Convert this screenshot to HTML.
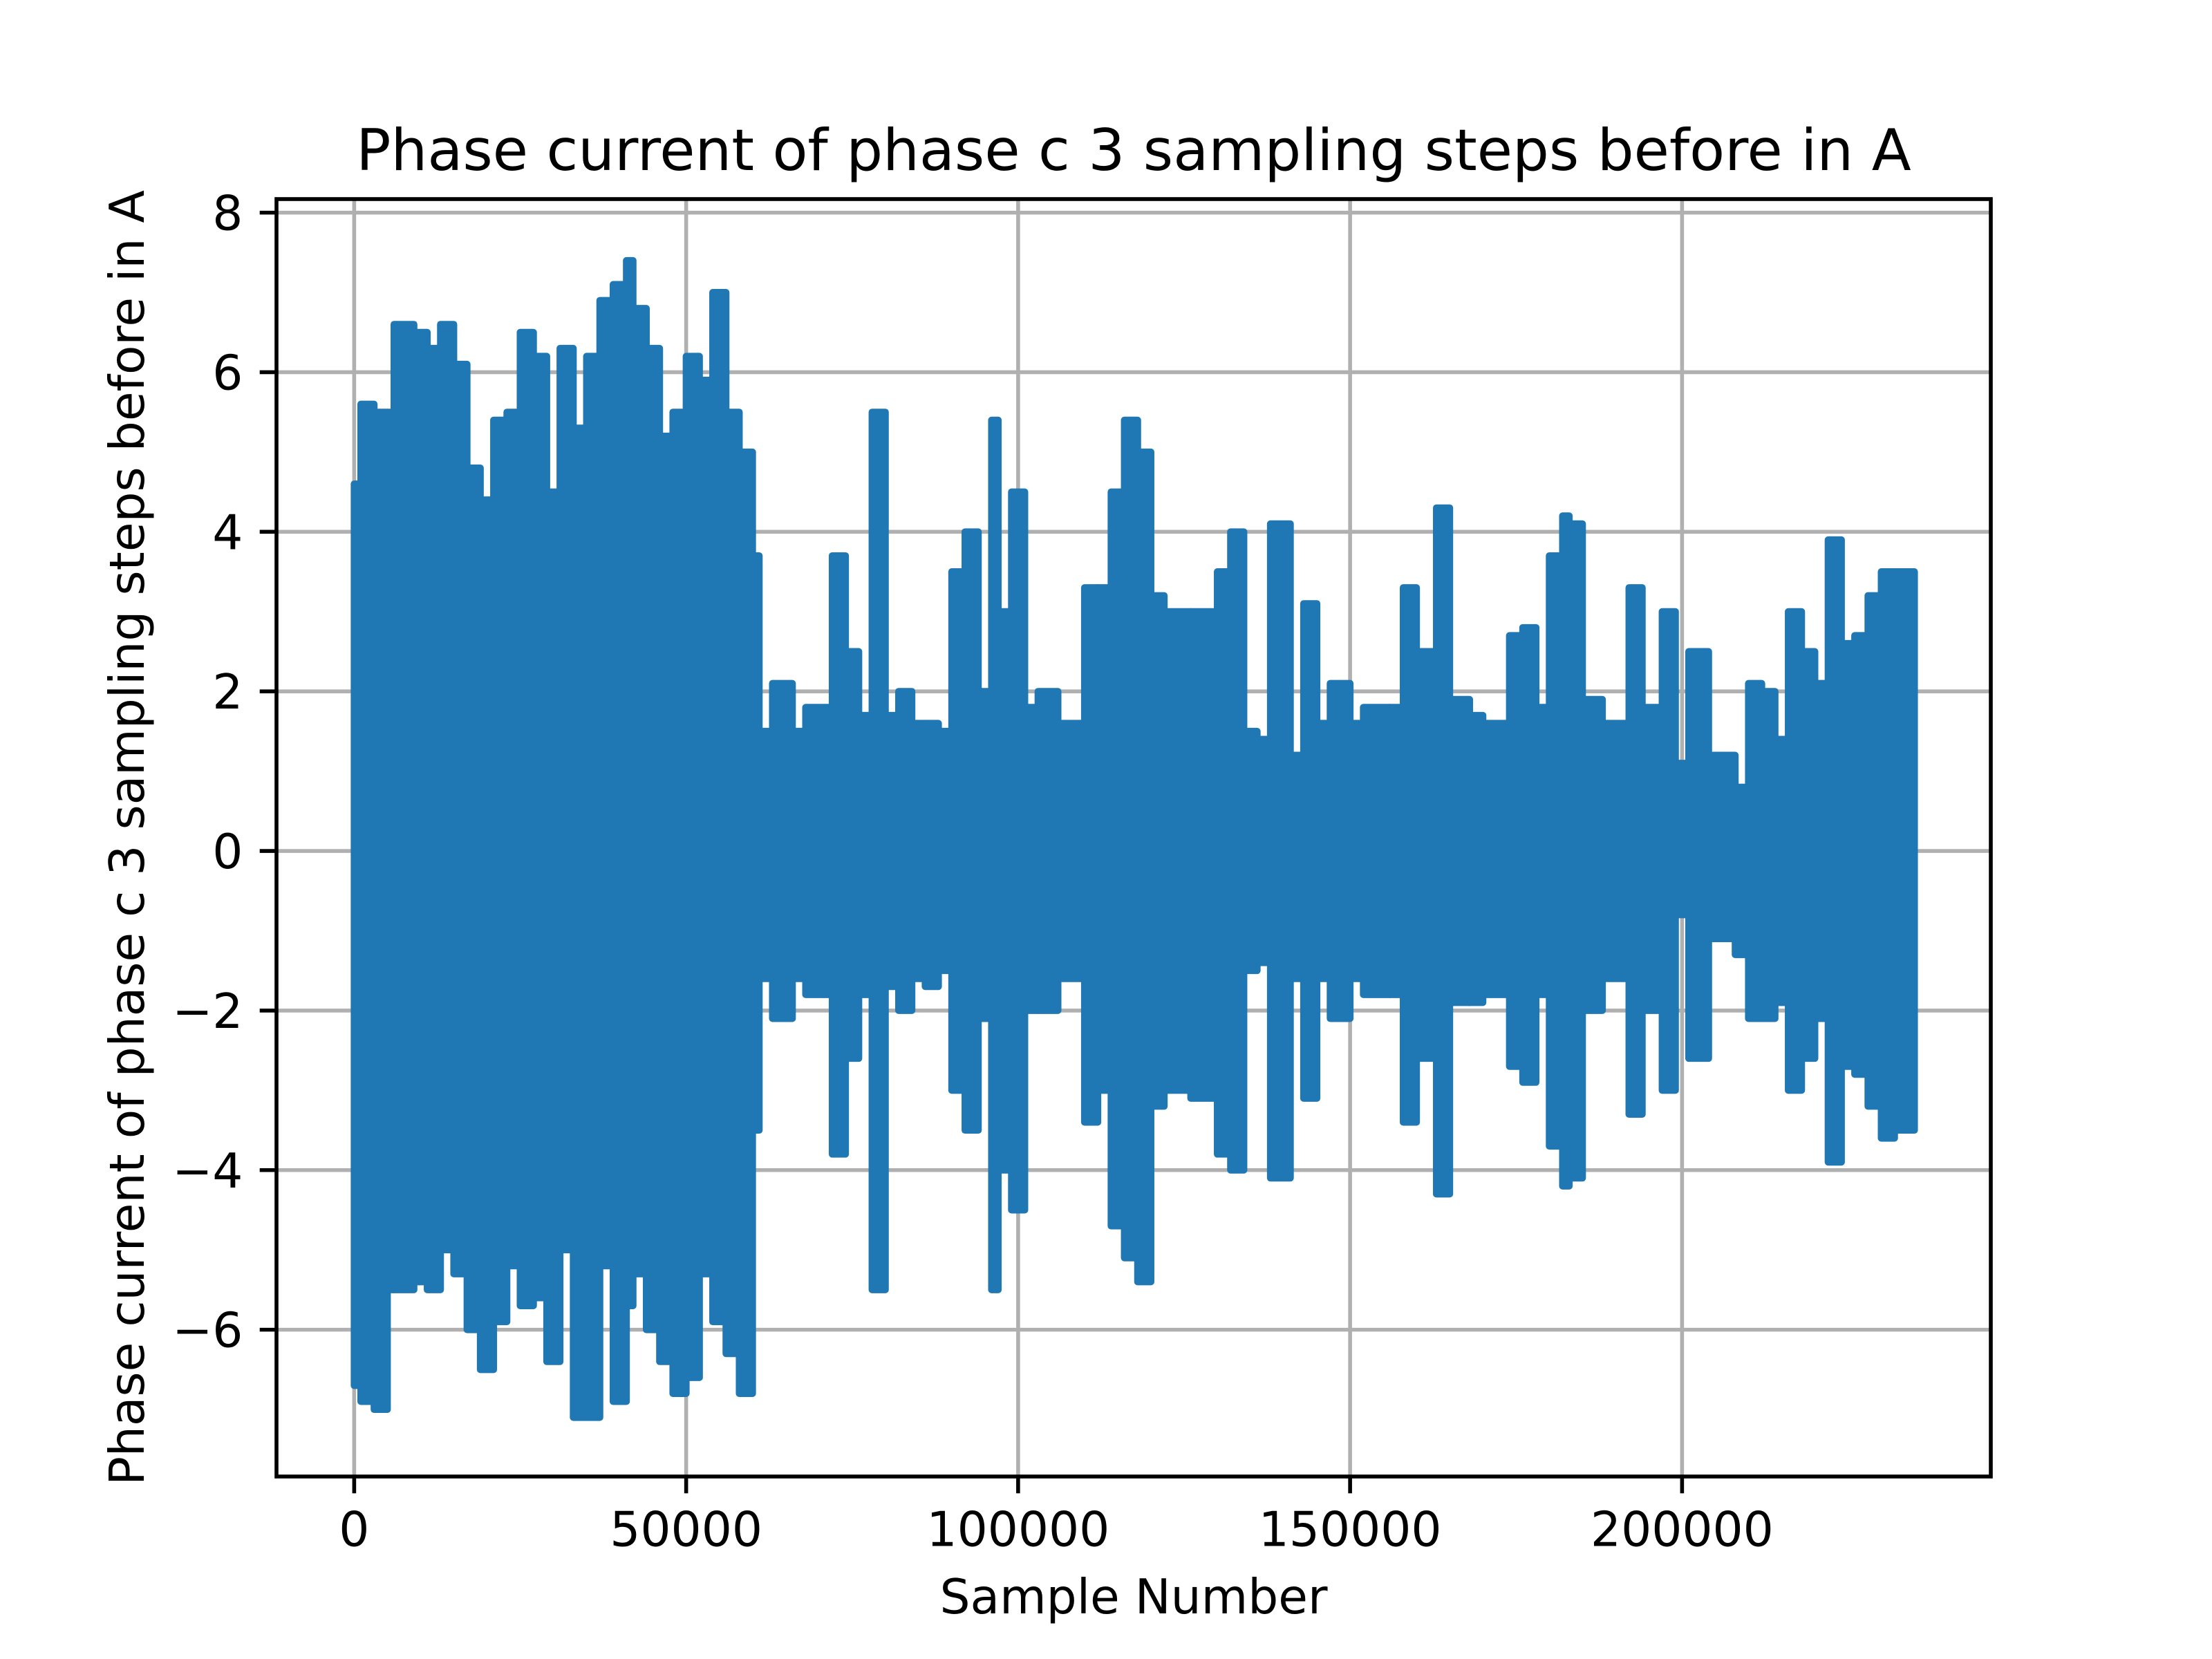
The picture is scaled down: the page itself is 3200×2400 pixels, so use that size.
<!DOCTYPE html>
<html><head><meta charset="utf-8"><style>
html,body{margin:0;padding:0;background:#fff;}
svg{display:block;}
text{font-family:"DejaVu Sans","Liberation Sans",sans-serif;fill:#000;}
</style></head><body>
<svg id="chart" width="3200" height="2400" viewBox="0 0 3200 2400" xmlns="http://www.w3.org/2000/svg">
<rect x="0" y="0" width="3200" height="2400" fill="#fff"/>
<g id="grid"></g>
<g id="series"></g>
<g id="axes"></g>
<text x="1640" y="246" font-size="83.3" text-anchor="middle">Phase current of phase c 3 sampling steps before in A</text>
<text x="1640" y="2334" font-size="69.4" text-anchor="middle">Sample Number</text>
<text transform="translate(208,1212) rotate(-90)" font-size="69.4" text-anchor="middle">Phase current of phase c 3 sampling steps before in A</text>
</svg>
<script>
// segment boundaries (thousands of samples)
const segStart = [0,1,3,5,6,9,11,13,15,17,19,21,23,25,27,29,31,33,35,37,39,41,42,44,46,48,50,52,54,56,58,60,61,63,66,68,72,74,76,78,80,82,84,86,88,90,92,94,96,97,99,101,103,106,110,112,114,116,118,120,122,126,130,132,134,136,138,141,143,145,147,150,152,156,158,160,163,165,168,170,174,176,178,180,182,183,185,188,192,194,197,199,201,204,208,210,212,214,216,218,220,222,224,226,228,230,232];
const segEnd = 235;
const upperVals = [4.6,5.6,5.5,5.5,6.6,6.5,6.3,6.6,6.1,4.8,4.4,5.4,5.5,6.5,6.2,4.5,6.3,5.3,6.2,6.9,7.1,7.4,6.8,6.3,5.2,5.5,6.2,5.9,7.0,5.5,5.0,3.7,1.5,2.1,1.5,1.8,3.7,2.5,1.7,5.5,1.7,2.0,1.6,1.6,1.5,3.5,4.0,2.0,5.4,3.0,4.5,1.8,2.0,1.6,3.3,3.3,4.5,5.4,5.0,3.2,3.0,3.0,3.5,4.0,1.5,1.4,4.1,1.2,3.1,1.6,2.1,1.6,1.8,1.8,3.3,2.5,4.3,1.9,1.7,1.6,2.7,2.8,1.8,3.7,4.2,4.1,1.9,1.6,3.3,1.8,3.0,1.1,2.5,1.2,0.8,2.1,2.0,1.4,3.0,2.5,2.1,3.9,2.6,2.7,3.2,3.5,3.5];
const lowerVals = [-6.7,-6.9,-7.0,-5.5,-5.5,-5.4,-5.5,-5.0,-5.3,-6.0,-6.5,-5.9,-5.2,-5.7,-5.6,-6.4,-5.0,-7.1,-7.1,-5.2,-6.9,-5.7,-5.3,-6.0,-6.4,-6.8,-6.6,-5.3,-5.9,-6.3,-6.8,-3.5,-1.6,-2.1,-1.6,-1.8,-3.8,-2.6,-1.8,-5.5,-1.7,-2.0,-1.6,-1.7,-1.5,-3.0,-3.5,-2.1,-5.5,-4.0,-4.5,-2.0,-2.0,-1.6,-3.4,-3.0,-4.7,-5.1,-5.4,-3.2,-3.0,-3.1,-3.8,-4.0,-1.5,-1.4,-4.1,-1.6,-3.1,-1.6,-2.1,-1.6,-1.8,-1.8,-3.4,-2.6,-4.3,-1.9,-1.9,-1.8,-2.7,-2.9,-1.8,-3.7,-4.2,-4.1,-2.0,-1.6,-3.3,-2.0,-3.0,-0.8,-2.6,-1.1,-1.3,-2.1,-2.1,-1.9,-3.0,-2.6,-2.1,-3.9,-2.7,-2.8,-3.2,-3.6,-3.5];
const xTicks = [0,50000,100000,150000,200000];
const xTickLabels = ["0","50000","100000","150000","200000"];
const yTicks = [-6,-4,-2,0,2,4,6,8];
const yTickLabels = ["\u22126","\u22124","\u22122","0","2","4","6","8"];

const L=400,R=2880,T=288,B=2136;
const xMin=-11700,xMax=246500,yMin=-7.84,yMax=8.17;
const sx=v=>L+(v-xMin)/(xMax-xMin)*(R-L);
const sy=v=>B-(v-yMin)/(yMax-yMin)*(B-T);
const NS="http://www.w3.org/2000/svg";
const mk=(t,a)=>{const e=document.createElementNS(NS,t);for(const k in a)e.setAttribute(k,a[k]);return e;};
const grid=document.getElementById('grid'),series=document.getElementById('series'),axes=document.getElementById('axes');

xTicks.forEach((v,i)=>{
  const x=sx(v);
  const g=mk('line',{x1:x,x2:x,y1:T,y2:B,stroke:'#b0b0b0','stroke-width':5.6});
  
  
  grid.appendChild(g);
  const t=mk('line',{x1:x,x2:x,y1:B,y2:B+24.3,stroke:'#000','stroke-width':5.6});
  
  
  axes.appendChild(t);
  const lb=mk('text',{x:x,y:B+24.3+24.3+52,'font-size':69.4,'text-anchor':'middle'});
  lb.textContent=xTickLabels[i];
  
  
  axes.appendChild(lb);
});
yTicks.forEach((v,i)=>{
  const y=sy(v);
  const g=mk('line',{x1:L,x2:R,y1:y,y2:y,stroke:'#b0b0b0','stroke-width':5.6});
  
  
  grid.appendChild(g);
  const t=mk('line',{x1:L-24.3,x2:L,y1:y,y2:y,stroke:'#000','stroke-width':5.6});
  
  
  axes.appendChild(t);
  const lb=mk('text',{x:L-24.3-24.3,y:y+25,'font-size':69.4,'text-anchor':'end'});
  lb.textContent=yTickLabels[i];
  
  
  axes.appendChild(lb);
});
segStart.forEach((s,i)=>{
  const e=(i+1<segStart.length?segStart[i+1]:segEnd);
  const x0=sx(s*1000),x1=sx(e*1000);
  const y0=sy(upperVals[i]),y1=sy(lowerVals[i]);
  const r=mk('rect',{x:x0-5,y:y0-5,width:x1-x0+10,height:y1-y0+10,rx:5,fill:'#1f77b4'});
  
  
  series.appendChild(r);
});
const frame=mk('rect',{x:L,y:T,width:R-L,height:B-T,fill:'none',stroke:'#000','stroke-width':5.6});


axes.appendChild(frame);
</script>
</body></html>
